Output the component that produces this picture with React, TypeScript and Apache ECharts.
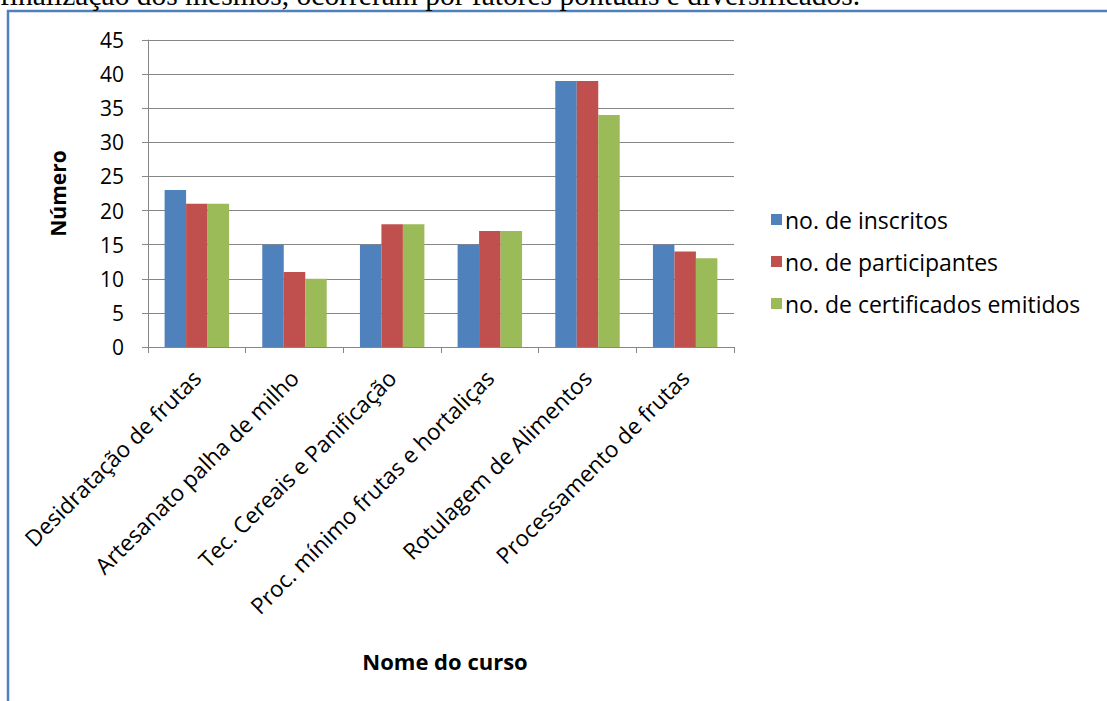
import React, { useEffect, useRef } from "react";
import * as echarts from "echarts";

const categories = [
  "Desidratação de frutas",
  "Artesanato palha de milho",
  "Tec. Cereais e Panificação",
  "Proc. mínimo frutas e hortaliças",
  "Rotulagem de Alimentos",
  "Processamento de frutas",
];
const inscritos = [23, 15, 15, 15, 39, 15];
const participantes = [21, 11, 18, 17, 39, 14];
const certificados = [21, 10, 18, 17, 34, 13];
const seriesNames = [
  "no. de inscritos",
  "no. de participantes",
  "no. de certificados emitidos",
];
const colors = ["#4F81BD", "#C0504D", "#9BBB59"];
const topText = "finalização dos mesmos, ocorreram por fatores pontuais e diversificados.";

const FONT = "Open Sans";

export default function App() {
  const ref = useRef<HTMLDivElement>(null);
  useEffect(() => {
    if (!ref.current) return;
    const chart = echarts.init(ref.current, null, { renderer: "svg" });
    const data = [inscritos, participantes, certificados];
    chart.setOption({
      animation: false,
      backgroundColor: "#ffffff",
      textStyle: { fontFamily: FONT },
      grid: { left: 148, top: 40, right: 373, bottom: 354, containLabel: false },
      legend: {
        orient: "vertical",
        left: 766,
        top: 203,
        itemWidth: 11,
        itemHeight: 11,
        itemGap: 19,
        icon: "rect",
        textStyle: { fontFamily: FONT, fontSize: 23, color: "#000000", padding: [0, 0, 0, -2] },
        data: seriesNames,
      },
      xAxis: {
        type: "category",
        data: categories,
        name: "Nome do curso",
        nameLocation: "middle",
        nameGap: 303,
        nameTextStyle: {
          fontFamily: FONT,
          fontSize: 22,
          fontWeight: "bold",
          color: "#000000",
          padding: [0, 0, 0, 8],
        },
        axisLine: { lineStyle: { color: "#868686", width: 1 } },
        axisTick: { show: true, length: 6, lineStyle: { color: "#868686" } },
        axisLabel: {
          rotate: 45,
          interval: 0,
          margin: 27,
          fontFamily: FONT,
          fontSize: 22.5,
          color: "#000000",
        },
      },
      yAxis: {
        type: "value",
        min: 0,
        max: 45,
        interval: 5,
        name: "Número",
        nameLocation: "middle",
        nameGap: 80,
        nameRotate: 90,
        nameTextStyle: { fontFamily: FONT, fontSize: 21, fontWeight: "bold", color: "#000000" },
        axisLine: { show: true, lineStyle: { color: "#868686", width: 1 } },
        axisTick: { show: true, length: 6, lineStyle: { color: "#868686" } },
        splitLine: { show: true, lineStyle: { color: "#868686", width: 1 } },
        axisLabel: { margin: 24, fontFamily: FONT, fontSize: 21, color: "#000000" },
      },
      graphic: [
        {
          type: "rect",
          shape: { x: 8, y: 11, width: 1300, height: 900 },
          style: { fill: "none", stroke: "#4F81BD", lineWidth: 2.5 },
          silent: true,
        },
        {
          type: "text",
          x: 0,
          y: -5,
          style: {
            text: topText,
            font: "29.5px 'Liberation Serif', 'Times New Roman', serif",
            fill: "#000000",
            verticalAlign: "middle",
          },
          silent: true,
        },
      ],
      series: seriesNames.map((name, i) => ({
        name,
        type: "bar",
        data: data[i],
        barGap: "0%",
        barCategoryGap: "34%",
        itemStyle: { color: colors[i] },
      })),
    });
    return () => chart.dispose();
  }, []);
  return (
    <div
      ref={ref}
      style={{ position: "fixed", left: 0, top: 0, width: 1107, height: 701 }}
    />
  );
}
